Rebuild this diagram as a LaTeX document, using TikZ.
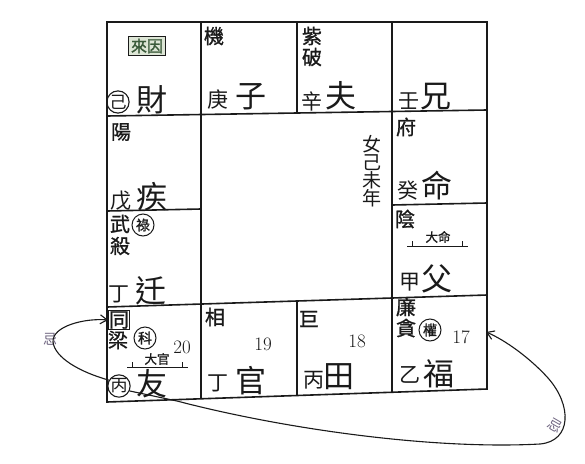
\documentclass[tikz,border=0pt]{standalone}
\usepackage{fontspec}
\newfontfamily\cjk{Noto Sans CJK TC}
\newfontfamily\cjkb[FakeBold=1.2]{Noto Sans CJK TC}
\usetikzlibrary{arrows.meta}
\definecolor{ink}{HTML}{1A1A1A}
\definecolor{boxfill}{HTML}{DDE6D6}
\definecolor{boxtext}{HTML}{3A5A3A}
\definecolor{faint}{HTML}{6E6480}
\begin{document}
\begin{tikzpicture}[x=1pt,y=-1pt,
  grid/.style={draw=ink,line width=1.6pt},
  big/.style={font=\cjk\fontsize{31}{31}\selectfont,inner sep=0pt,text=ink},
  stem/.style={font=\cjk\fontsize{21}{21}\selectfont,inner sep=0pt,text=ink},
  star/.style={font=\cjkb\fontsize{20}{20}\selectfont,inner sep=0pt,text=ink},
  num/.style={font=\fontsize{19}{19}\selectfont,inner sep=0pt,text=ink},
  circbig/.style={circle,draw=ink,line width=1.1pt,inner sep=0pt,minimum size=22pt,font=\cjk\fontsize{17}{17}\selectfont,text=ink},
  circsm/.style={circle,draw=ink,line width=1pt,inner sep=0pt,minimum size=22pt,font=\cjkb\fontsize{14}{14}\selectfont,text=ink},
  tinytxt/.style={font=\cjkb\fontsize{12.5}{12.5}\selectfont,inner sep=0pt,text=ink},
  scribble/.style={font=\cjk\fontsize{14}{14}\selectfont,inner sep=0pt,text=faint},
  link/.style={draw=ink,line width=1.1pt,-{Straight Barb[length=7pt,width=9pt]}}
]
\useasboundingbox (0,0) rectangle (585,463);
\fill[white] (0,0) rectangle (585,463);
% grid (slightly skewed like the scan)
\draw[grid] (107,22) -- (487,22) -- (487,389) -- (107,402) -- cycle;
\draw[grid] (107,116) -- (487,110);
\draw[grid] (107,307) -- (487,295);
\draw[grid] (107,211) -- (201,209);
\draw[grid] (392,205) -- (487,203);
\draw[grid] (201,22) -- (201,399);
\draw[grid] (297,22) -- (297,113);
\draw[grid] (297,301) -- (297,395.5);
\draw[grid] (392,22) -- (392,392);
% row 1
\node[draw=ink,line width=1pt,fill=boxfill,inner sep=2.5pt,font=\cjkb\fontsize{16}{16}\selectfont,text=boxtext] (laiyin) at (147,46) {來因};
\node[circbig] (ji) at (118,102) {己};
\node[big] (cai) at (152,100) {財};
\node[star] (jixing) at (214,36) {機};
\node[stem] (geng) at (218,100) {庚};
\node[big] (zi) at (251,97) {子};
\node[star] (zi2) at (312,36) {紫};
\node[star] (po) at (312,57) {破};
\node[stem] (xin) at (312,101) {辛};
\node[big] (fu1) at (341,96) {夫};
\node[stem] (ren) at (409,101) {壬};
\node[big] (xiong) at (436,97) {兄};
% row 2
\node[star] (yang) at (121,132) {陽};
\node[stem] (wu1) at (121,201) {戊};
\node[big] (jib) at (152,197) {疾};
\node[font=\cjk\fontsize{19}{19}\selectfont,inner sep=0pt,text=ink,align=center] (year) at (372,171) {女\\[-1pt]己\\[-1pt]未\\[-1pt]年};
\node[star] (fu2) at (406,127) {府};
\node[stem] (gui) at (408,191) {癸};
\node[big] (ming) at (437,186) {命};
% row 3
\node[star] (wu2) at (120,224) {武};
\node[circsm] (lu) at (143,225) {祿};
\node[star] (sha) at (120,246) {殺};
\node[stem] (ding1) at (119,294) {丁};
\node[big] (qian) at (151,291) {迁};
\node[star] (yin) at (405,219) {陰};
\node[tinytxt] (daming) at (438,237) {大命};
\draw[draw=ink,line width=0.9pt] (407,246) -- (468,246) (412,241) -- (412,246) (462,241) -- (462,246);
\node[stem] (jia) at (410,282) {甲};
\node[big] (fu3) at (437,279) {父};
% row 4
\node[star,draw=ink,line width=0.7pt,inner sep=0.5pt] (tong) at (119,320) {同};
\node[star] (liang) at (118,340) {梁};
\node[circsm] (ke) at (145,338) {科};
\node[num] (n20) at (182,347) {20};
\node[tinytxt] (daguan) at (157,359) {大官};
\draw[draw=ink,line width=0.9pt] (127,367) -- (188,367) (132,362) -- (132,367) (182,362) -- (182,367);
\node[circbig] (bing) at (119,386) {丙};
\node[big] (you) at (152,384) {友};
\node[star] (xiang) at (215,317) {相};
\node[num] (n19) at (263,344) {19};
\node[stem] (ding2) at (218,383) {丁};
\node[big] (guan) at (251,381) {官};
\node[star] (ju) at (309,319) {巨};
\node[num] (n18) at (357,341) {18};
\node[stem] (bing2) at (314,380) {丙};
\node[big] (tian) at (339,377) {田};
\node[star] (lian) at (406,307) {廉};
\node[star] (tan) at (406,328) {貪};
\node[circsm] (quan) at (430,330) {權};
\node[num] (n17) at (461,337) {17};
\node[stem] (yi) at (410,375) {乙};
\node[big] (fu4) at (439,374) {福};
% scribbles
\node[scribble] (jiL) at (50,339) {忌};
\node[scribble,rotate=-30] (jiR) at (555,426) {忌};
% connectors
\coordinate (fuend) at (486,332);
\coordinate (via) at (177,401);
\draw[link] (bing.150) .. controls (80,372) and (55,358) .. (53,342)
  .. controls (52,326) and (85,318) .. (tong.west);
\draw[link] (bing.-25) -- (via) .. controls (280,428) and (430,450) .. (540,444)
  .. controls (572,441) and (572,405) .. (548,378)
  .. controls (530,358) and (505,340) .. (fuend);
\end{tikzpicture}
\end{document}
